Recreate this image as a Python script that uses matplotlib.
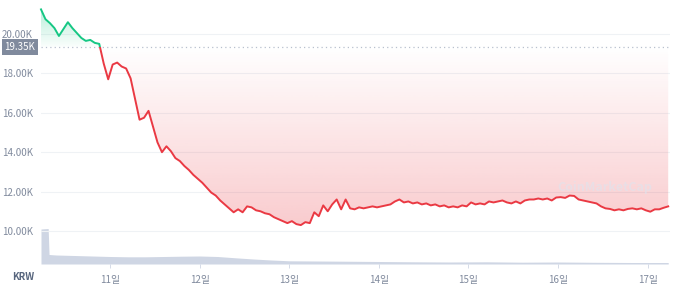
import numpy as np
import matplotlib
matplotlib.use("Agg")
import matplotlib.pyplot as plt
import matplotlib.colors as mcolors
import matplotlib.patches as mpatches
import matplotlib.transforms as mtransforms

plt.rcParams['font.family'] = ['Noto Sans CJK KR', 'DejaVu Sans']

# price in thousands of KRW, sampled every 0.05 day starting at day 10.23
t_start = 10.23
t_step = 0.05
price = [
    21.25, 20.75, 20.55, 20.3, 19.9, 20.25, 20.6, 20.3, 20.05, 19.8,
    19.65, 19.7, 19.55, 19.5, 18.5, 17.7, 18.45, 18.55, 18.35, 18.25,
    17.75, 16.7, 15.65, 15.75, 16.1, 15.3, 14.5, 14.0, 14.3, 14.05,
    13.7, 13.55, 13.3, 13.1, 12.85, 12.65, 12.45, 12.2, 11.95, 11.8,
    11.55, 11.35, 11.15, 10.95, 11.1, 10.95, 11.25, 11.2, 11.05, 11.0,
    10.9, 10.85, 10.7, 10.6, 10.5, 10.4, 10.5, 10.35, 10.3, 10.45,
    10.4, 10.95, 10.75, 11.3, 11.0, 11.35, 11.6, 11.1, 11.6, 11.15,
    11.1, 11.2, 11.15, 11.2, 11.25, 11.2, 11.25, 11.3, 11.35, 11.5,
    11.6, 11.45, 11.5, 11.4, 11.45, 11.35, 11.4, 11.3, 11.35, 11.25,
    11.3, 11.2, 11.25, 11.2, 11.3, 11.25, 11.45, 11.35, 11.4, 11.35,
    11.5, 11.45, 11.5, 11.55, 11.45, 11.4, 11.5, 11.4, 11.55, 11.6,
    11.6, 11.65, 11.6, 11.65, 11.55, 11.7, 11.72, 11.68, 11.8, 11.78,
    11.6, 11.55, 11.5, 11.45, 11.4, 11.25, 11.15, 11.12, 11.05, 11.1,
    11.05, 11.12, 11.15, 11.1, 11.15, 11.05, 10.98, 11.1, 11.1, 11.18,
    11.25,
]
baseline = 19.35

# volume (arbitrary units)
vol_t = [10.23, 10.31, 10.32, 10.4, 10.6, 10.8, 11.0, 11.2, 11.4, 11.6,
         11.8, 12.0, 12.2, 12.4, 12.6, 12.8, 13.0, 13.3, 13.6, 14.0,
         14.4, 14.8, 15.2, 15.6, 16.0, 16.4, 16.8, 17.23]
vol = [3.5, 3.55, 0.95, 0.9, 0.85, 0.8, 0.75, 0.72, 0.72, 0.75,
       0.78, 0.8, 0.75, 0.62, 0.5, 0.4, 0.32, 0.3, 0.28, 0.25,
       0.22, 0.2, 0.22, 0.18, 0.2, 0.17, 0.15, 0.15]

day_ticks = [11, 12, 13, 14, 15, 16, 17]
day_labels = ['11일', '12일', '13일', '14일', '15일', '16일', '17일']
y_ticks = [10, 12, 14, 16, 18, 20]

GREEN = '#16c784'
RED = '#ea3943'
GREY = '#808a9d'

t = t_start + t_step * np.arange(len(price))
p = np.array(price)

fig = plt.figure(figsize=(6.8, 2.85), dpi=100)
ax = fig.add_axes([41 / 680, 21 / 285, 629 / 680, 264 / 285])
ax2 = ax.twinx()
ax.set_zorder(ax2.get_zorder() + 1)
ax.patch.set_visible(False)

xlo, xhi = 10.23, 17.25
ylo, yhi = 8.325, 21.726

# volume area
ax2.fill_between(vol_t, vol, 0, color='#cfd6e4', lw=0)
ax2.set_ylim(0, 26.4)
ax2.axis('off')


def gradient_fill(ax, lo, hi, color, a_top, a_bot):
    poly = ax.fill_between(t, p, baseline, facecolor='none', lw=0)
    grad = np.zeros((256, 1, 4))
    grad[:, :, :3] = mcolors.to_rgb(color)
    grad[:, 0, 3] = np.linspace(a_top, a_bot, 256)
    im = ax.imshow(grad, aspect='auto', extent=[t[0], t[-1], lo, hi],
                   origin='upper', zorder=1, interpolation='bilinear')
    im.set_clip_path(poly.get_paths()[0], poly.get_transform())


gradient_fill(ax, baseline, p.max(), GREEN, 0.3, 0.02)
gradient_fill(ax, p.min(), baseline, RED, 0.0, 0.26)

# line split at the baseline
for col, y0, h in [(GREEN, baseline, 10), (RED, baseline - 10, 10)]:
    ln, = ax.plot(t, p, color=col, lw=1.4, zorder=3)
    rect = mpatches.Rectangle((9, y0), 10, h, transform=ax.transData)
    ln.set_clip_path(rect)

ax.axhline(baseline, color='#b8c0ce', lw=0.9, ls=(0, (1, 2.5)), zorder=2)
for yv in y_ticks:
    ax.axhline(yv, color='#eff2f5', lw=0.8, zorder=0)

ax.set_xlim(xlo, xhi)
ax.set_ylim(ylo, yhi)
ax.set_yticks(y_ticks)
ax.set_yticklabels(['%.2fK' % v for v in y_ticks])
ax.set_xticks(day_ticks)
ax.set_xticklabels(day_labels)
ax.tick_params(axis='y', length=0, pad=6, labelsize=7, labelcolor=GREY)
ax.tick_params(axis='x', length=3, width=0.6, color='#cfd6e4', pad=5,
               labelsize=7, labelcolor=GREY)
for s in ax.spines.values():
    s.set_visible(False)

# current price tag
trans = mtransforms.blended_transform_factory(ax.transAxes, ax.transData)
ax.text(-0.009, baseline, '19.35K', transform=trans, ha='right', va='center',
        fontsize=7, color='white', zorder=5,
        bbox=dict(boxstyle='square,pad=0.3', fc=GREY, ec='none'))

fig.text(23 / 680, 1 - 277 / 285, 'KRW', ha='center', va='center',
         fontsize=7, color='#58667e', fontweight='bold')

# watermark
fig.text(605 / 680, 1 - 188 / 285, 'CoinMarketCap', ha='center', va='center',
         fontsize=9, color='#dfe4ee', alpha=0.6, fontweight='bold')

fig.savefig('out.png', dpi=100)
